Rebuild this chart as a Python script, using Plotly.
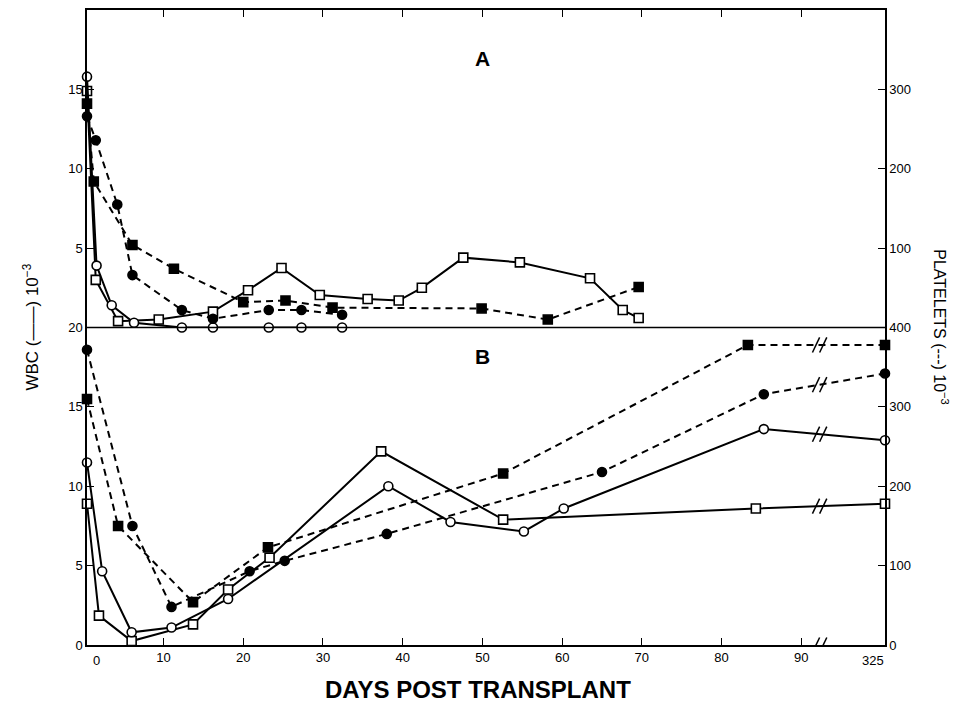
import numpy as np
import plotly.graph_objects as go

# ---------------- data ----------------
# x positions are days post transplant on the plotted axis; the final point
# (day 325) sits after the axis break at the right-hand frame position.
DAY_325_POS = 100.5
BREAK_POS = 92.3
PRE_TX = 0.4  # pre-transplant sample, drawn on the left frame

# Panel A
A_wbc_circle_x = [PRE_TX, 1.6, 3.5, 6.3, 12.3, 16.2, 23.2, 27.3, 32.4]
A_wbc_circle_y = [15.8, 3.9, 1.4, 0.3, 0.0, 0.0, 0.0, 0.0, 0.0]
A_wbc_square_x = [PRE_TX, 1.5, 4.3, 9.4, 16.2, 20.6, 24.8, 29.6, 35.6, 39.5, 42.4, 47.6, 54.7, 63.5, 67.6, 69.6]
A_wbc_square_y = [14.9, 3.0, 0.4, 0.5, 1.0, 2.35, 3.75, 2.05, 1.8, 1.7, 2.5, 4.4, 4.1, 3.1, 1.1, 0.6]
A_plt_circle_x = [PRE_TX, 1.5, 4.2, 6.1, 12.3, 16.2, 23.2, 27.3, 32.4]
A_plt_circle_y = [266, 236, 155, 66, 22, 11, 22, 22, 16]
A_plt_square_x = [PRE_TX, 1.25, 6.1, 11.3, 20.0, 25.3, 31.2, 49.9, 58.2, 69.6]
A_plt_square_y = [282, 184, 104, 74, 32, 34, 25, 24, 10, 51]

# Panel B
B_wbc_circle_x = [PRE_TX, 2.3, 6.0, 11.0, 18.1, 38.2, 46.0, 55.2, 60.2, 85.3, DAY_325_POS]
B_wbc_circle_y = [11.5, 4.65, 0.8, 1.1, 2.9, 10.0, 7.75, 7.15, 8.6, 13.6, 12.9]
B_wbc_square_x = [PRE_TX, 1.9, 6.0, 13.7, 18.1, 23.3, 37.3, 52.6, 84.3, DAY_325_POS]
B_wbc_square_y = [8.9, 1.85, 0.25, 1.3, 3.5, 5.5, 12.2, 7.9, 8.6, 8.9]
B_plt_circle_x = [PRE_TX, 6.1, 11.0, 20.8, 25.2, 38.0, 65.0, 85.3, DAY_325_POS]
B_plt_circle_y = [372, 150, 48, 93, 106, 140, 218, 316, 342]
B_plt_square_x = [PRE_TX, 4.3, 13.7, 23.1, 52.6, 83.3, DAY_325_POS]
B_plt_square_y = [310, 150, 54, 123, 216, 378, 378]

x_tickvals = [10, 20, 30, 40, 50, 60, 70, 80, 90]
x_ticktext = ["10", "20", "30", "40", "50", "60", "70", "80", "90"]

# ---------------- figure ----------------
fig = go.Figure()
LW = 2
MS = 9

def add(x, y, xa, ya, symbol, filled, dashed):
    fig.add_trace(go.Scatter(
        x=x, y=y, xaxis=xa, yaxis=ya, mode="lines+markers",
        line=dict(color="black", width=LW, dash="7px,5px" if dashed else "solid"),
        marker=dict(symbol=symbol, size=MS,
                    color="black" if filled else "white",
                    line=dict(color="black", width=1.6)),
        cliponaxis=False, showlegend=False, hoverinfo="skip"))

add(A_plt_square_x, A_plt_square_y, "x2", "y4", "square", True, True)
add(A_plt_circle_x, A_plt_circle_y, "x2", "y4", "circle", True, True)
add(A_wbc_square_x, A_wbc_square_y, "x2", "y3", "square", False, False)
add(A_wbc_circle_x, A_wbc_circle_y, "x2", "y3", "circle", False, False)

add(B_plt_square_x, B_plt_square_y, "x", "y2", "square", True, True)
add(B_plt_circle_x, B_plt_circle_y, "x", "y2", "circle", True, True)
add(B_wbc_square_x, B_wbc_square_y, "x", "y", "square", False, False)
add(B_wbc_circle_x, B_wbc_circle_y, "x", "y", "circle", False, False)

FONT = "Liberation Sans, Arial, sans-serif"
tickfont = dict(family=FONT, size=13, color="black")
axis_common = dict(showgrid=False, zeroline=False, showline=True, linecolor="black",
                   linewidth=1.5, ticks="inside", ticklen=7, tickwidth=1.2,
                   tickcolor="black", tickfont=tickfont, automargin=False)

fig.update_layout(
    width=959, height=717,
    margin=dict(l=79, r=82, t=2, b=80, autoexpand=False),
    paper_bgcolor="white", plot_bgcolor="white",
    xaxis=dict(axis_common, domain=[0, 1], range=[PRE_TX, DAY_325_POS], anchor="y",
               tickvals=x_tickvals, ticktext=x_ticktext),
    xaxis2=dict(axis_common, domain=[0, 1], range=[PRE_TX, DAY_325_POS], anchor="y3",
                side="top", tickvals=x_tickvals, showticklabels=False, matches="x"),
    yaxis=dict(axis_common, domain=[0, 0.5], range=[0, 20], anchor="x",
               tickvals=[0, 5, 10, 15, 20]),
    yaxis2=dict(axis_common, range=[0, 400], overlaying="y", side="right", anchor="x",
                tickvals=[0, 100, 200, 300, 400]),
    yaxis3=dict(axis_common, domain=[0.5, 1], range=[0, 20], anchor="x2",
                tickvals=[5, 10, 15]),
    yaxis4=dict(axis_common, range=[0, 400], overlaying="y3", side="right", anchor="x2",
                tickvals=[100, 200, 300]),
)

# divider between the two panels
fig.add_shape(type="line", xref="paper", yref="paper", x0=0, x1=1, y0=0.5, y1=0.5,
              line=dict(color="black", width=1.5))

# axis-break marks "//"
def slashes(xc, yc, yref, yscale):
    for dx in (-0.45, 0.45):
        fig.add_shape(type="line", xref="x", yref=yref,
                      x0=xc + dx - 0.45, x1=xc + dx + 0.45,
                      y0=yc - yscale / 2, y1=yc + yscale / 2,
                      line=dict(color="black", width=1.5))

slashes(BREAK_POS, float(np.interp(BREAK_POS, B_wbc_circle_x, B_wbc_circle_y)), "y", 0.95)
slashes(BREAK_POS, float(np.interp(BREAK_POS, B_wbc_square_x, B_wbc_square_y)), "y", 0.95)
slashes(BREAK_POS, float(np.interp(BREAK_POS, B_plt_circle_x, B_plt_circle_y)), "y2", 19)
slashes(BREAK_POS, float(np.interp(BREAK_POS, B_plt_square_x, B_plt_square_y)), "y2", 19)
slashes(BREAK_POS, 0.0, "y", 0.95)

ann = []
ann.append(dict(x=1.6, y=0, xref="x", yref="y", text="0", showarrow=False,
                yanchor="top", yshift=-6, font=tickfont))
ann.append(dict(x=99.0, y=0, xref="x", yref="y", text="325", showarrow=False,
                yanchor="top", yshift=-6, font=tickfont))
ann.append(dict(x=50, y=0.945, xref="x2", yref="paper", text="<b>A</b>", showarrow=False,
                font=dict(family=FONT, size=21, color="black")))
ann.append(dict(x=50, y=0.455, xref="x", yref="paper", text="<b>B</b>", showarrow=False,
                font=dict(family=FONT, size=21, color="black")))
ann.append(dict(x=-0.0714, y=0.5, xref="paper", yref="paper", textangle=-90,
                xanchor="center", yanchor="middle",
                text="WBC (——) 10<sup>−3</sup>", showarrow=False,
                font=dict(family=FONT, size=17, color="black")))
ann.append(dict(x=1.0705, y=0.5, xref="paper", yref="paper", textangle=90,
                xanchor="center", yanchor="middle",
                text="PLATELETS (---) 10<sup>−3</sup>", showarrow=False,
                font=dict(family=FONT, size=16, color="black")))
ann.append(dict(x=0.49, y=-0.0706, xref="paper", yref="paper", yanchor="middle",
                text="<b>DAYS POST TRANSPLANT</b>", showarrow=False,
                font=dict(family="Liberation Sans Narrow, Liberation Sans, Arial", size=24, color="black")))
fig.update_layout(annotations=ann)

fig.write_html("out.html")
